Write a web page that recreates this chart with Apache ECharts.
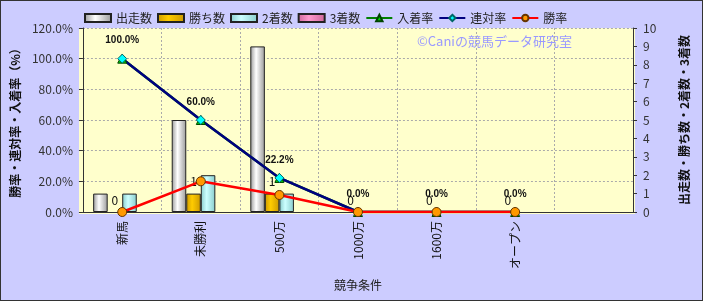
<!DOCTYPE html>
<html><head><meta charset="utf-8">
<script src="https://cdn.jsdelivr.net/npm/echarts@6/dist/echarts.min.js"></script>
<style>html,body{margin:0;padding:0;background:#CCCCFF}#c{width:703px;height:301px;box-sizing:border-box;border:1px solid #333}</style>
</head><body><div id="c"></div>
<script>
const categories = ['新馬','未勝利','500万','1000万','1600万','オープン',''];
const runs = [1,5,9,0,0,0,null];
const wins = [0,1,1,0,0,0,null];
const seconds = [1,2,1,0,0,0,null];
const thirds = [0,0,0,0,0,0,null];
const placeRate = [100,60,22.2,0,0,0,null];
const rentaiRate = [100,60,22.2,0,0,0,null];
const winRate = [0,20,11.1,0,0,0,null];

const F = '"Noto Sans CJK JP", sans-serif';
function grad(edge, mid){
  return new echarts.graphic.LinearGradient(0,0,1,0,[
    {offset:0,color:edge},{offset:0.4,color:mid},{offset:1,color:edge}]);
}
function noZeroBorder(arr){
  return arr.map(v => v === 0 ? {value:0, itemStyle:{borderWidth:0}} : v);
}
const chart = echarts.init(document.getElementById('c'));
const barBase = {type:'bar', yAxisIndex:1, barGap:'0%', barCategoryGap:'26%'};
chart.setOption({
  animation:false,
  backgroundColor:'#CCCCFF',
  textStyle:{fontFamily:F},
  legend:{
    left:83, top:11, padding:0, itemGap:5, itemWidth:26, itemHeight:8,
    textStyle:{fontFamily:F,fontSize:12,color:'#222'},
    data:[
      {name:'出走数',icon:'rect'},{name:'勝ち数',icon:'rect'},{name:'2着数',icon:'rect'},{name:'3着数',icon:'rect'},
      '入着率','連対率','勝率']
  },
  grid:{left:78,right:69,top:27,bottom:88},
  graphic:[{type:'text',left:416,top:34,style:{text:'©Caniの競馬データ研究室',fill:'#9999FF',font:'13px '+F}},
           {type:'rect',shape:{x:78,y:27,width:556,height:186},style:{fill:'#FFFFCC'},z:-1}],
  xAxis:{
    type:'category', data:categories,
    name:'競争条件', nameLocation:'middle', nameGap:67,
    nameTextStyle:{fontFamily:F,fontSize:12,color:'#222'},
    axisLine:{lineStyle:{color:'#333'}},
    axisTick:{show:false},
    axisLabel:{rotate:90,fontFamily:F,fontSize:12,color:'#111',margin:9},
    splitLine:{show:true,interval:0,lineStyle:{color:'#aaa',type:[2,2]}}
  },
  yAxis:[{
    type:'value', min:0, max:120, interval:20,
    name:'勝率・連対率・入着率（%）', nameLocation:'middle', nameGap:55, nameRotate:90,
    nameTextStyle:{fontFamily:F,fontSize:12,color:'#111',fontWeight:'bold'},
    axisLine:{show:true,lineStyle:{color:'#333'}},
    axisTick:{show:true,inside:false,length:4,lineStyle:{color:'#333'}},
    axisLabel:{fontFamily:F,fontSize:12,color:'#333',formatter:v=>v.toFixed(1)+'%',margin:10},
    splitLine:{show:true,lineStyle:{color:'#aaa',type:[2,2]}}
  },{
    type:'value', min:0, max:10, interval:1, position:'right',
    name:'出走数・勝ち数・2着数・3着数', nameLocation:'middle', nameGap:45, nameRotate:90,
    nameTextStyle:{fontFamily:F,fontSize:12,color:'#111',fontWeight:'bold'},
    axisLine:{show:true,lineStyle:{color:'#333'}},
    axisTick:{show:true,length:4,lineStyle:{color:'#333'}},
    axisLabel:{fontFamily:F,fontSize:12,color:'#333',margin:10},
    splitLine:{show:false}
  }],
  series:[
    Object.assign({},barBase,{name:'出走数',data:noZeroBorder(runs),itemStyle:{color:grad('#999999','#FFFFFF'),borderColor:'#222',borderWidth:1}}),
    Object.assign({},barBase,{name:'勝ち数',data:noZeroBorder(wins),itemStyle:{color:grad('#CC9900','#FFCC00'),borderColor:'#222',borderWidth:1},
      label:{show:true,position:'top',distance:6,fontFamily:F,fontSize:12,color:'#111'}}),
    Object.assign({},barBase,{name:'2着数',data:noZeroBorder(seconds),itemStyle:{color:grad('#88CCCC','#CCFFFF'),borderColor:'#222',borderWidth:1}}),
    Object.assign({},barBase,{name:'3着数',data:noZeroBorder(thirds),itemStyle:{color:grad('#CC6699','#FF99CC'),borderColor:'#222',borderWidth:1}}),
    {name:'入着率',type:'line',yAxisIndex:0,data:placeRate,symbol:'triangle',symbolSize:9,
      lineStyle:{color:'#008000',width:2.5},itemStyle:{color:'#00CC00',borderColor:'#004400',borderWidth:1}},
    {name:'連対率',type:'line',yAxisIndex:0,data:rentaiRate,symbol:'diamond',symbolSize:9,
      lineStyle:{color:'#000080',width:2.5},itemStyle:{color:'#00FFFF',borderColor:'#006666',borderWidth:1},
      label:{show:true,position:'top',distance:8,fontFamily:'Arial, sans-serif',fontSize:10,fontWeight:'bold',color:'#111',
        formatter:p=>p.value.toFixed(1)+'%'}},
    {name:'勝率',type:'line',yAxisIndex:0,data:winRate,symbol:'circle',symbolSize:9,
      lineStyle:{color:'#FF0000',width:2.5},itemStyle:{color:'#FF9900',borderColor:'#663300',borderWidth:1}}
  ]
});
</script></body></html>
